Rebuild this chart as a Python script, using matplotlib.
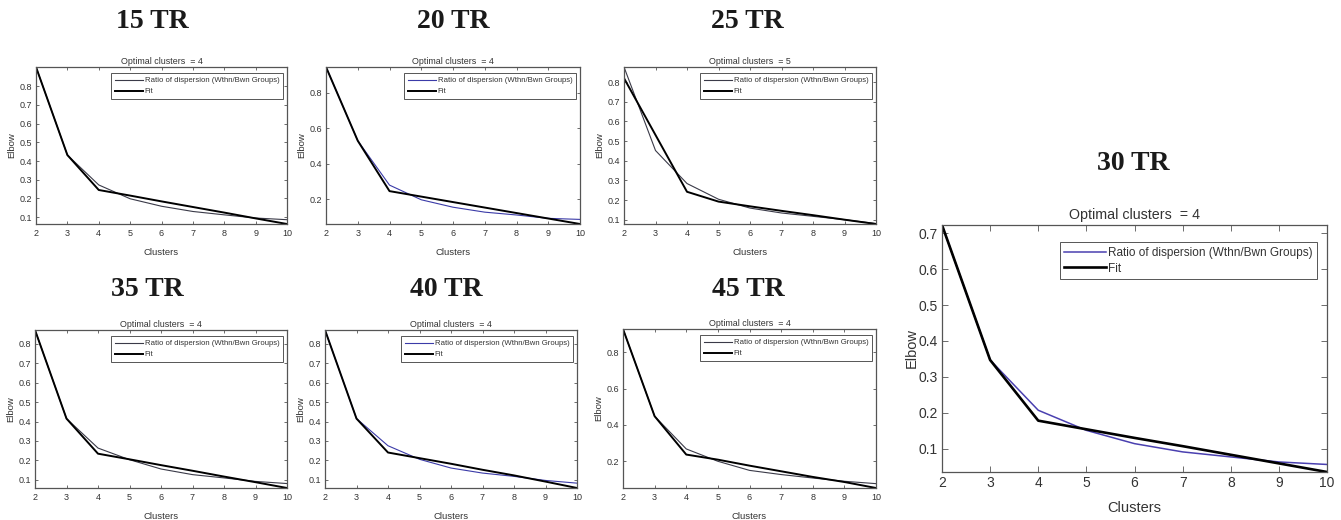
import matplotlib
matplotlib.use("Agg")
import matplotlib.pyplot as plt

plt.rcParams['font.family'] = ['Liberation Sans', 'DejaVu Sans']

clusters = [2, 3, 4, 5, 6, 7, 8, 9, 10]

panel_names = ["15 TR", "20 TR", "25 TR", "35 TR", "40 TR", "45 TR", "30 TR"]
optimal_k = [4, 4, 5, 4, 4, 4, 4]

ratio_15 = [0.903, 0.432, 0.272, 0.198, 0.158, 0.130, 0.112, 0.095, 0.086]
fit_15 = [0.903, 0.432, 0.245, 0.215, 0.184, 0.154, 0.124, 0.093, 0.063]

ratio_20 = [0.947, 0.530, 0.279, 0.196, 0.154, 0.126, 0.110, 0.091, 0.085]
fit_20 = [0.947, 0.530, 0.245, 0.214, 0.183, 0.152, 0.121, 0.090, 0.059]

ratio_25 = [0.877, 0.452, 0.284, 0.204, 0.159, 0.134, 0.117, 0.100, 0.080]
fit_25 = [0.820, 0.531, 0.242, 0.192, 0.168, 0.145, 0.123, 0.100, 0.078]

ratio_35 = [0.872, 0.415, 0.263, 0.203, 0.155, 0.126, 0.109, 0.091, 0.080]
fit_35 = [0.872, 0.415, 0.234, 0.205, 0.175, 0.146, 0.116, 0.087, 0.057]

ratio_40 = [0.872, 0.415, 0.275, 0.205, 0.160, 0.134, 0.117, 0.096, 0.082]
fit_40 = [0.872, 0.415, 0.240, 0.211, 0.182, 0.151, 0.122, 0.090, 0.057]

ratio_45 = [0.928, 0.448, 0.268, 0.200, 0.150, 0.127, 0.108, 0.090, 0.077]
fit_45 = [0.928, 0.448, 0.237, 0.209, 0.176, 0.145, 0.114, 0.086, 0.053]

ratio_30 = [0.723, 0.347, 0.207, 0.151, 0.114, 0.091, 0.077, 0.063, 0.056]
fit_30 = [0.723, 0.347, 0.178, 0.154, 0.130, 0.107, 0.083, 0.059, 0.035]

ratios = [ratio_15, ratio_20, ratio_25, ratio_35, ratio_40, ratio_45, ratio_30]
fits = [fit_15, fit_20, fit_25, fit_35, fit_40, fit_45, fit_30]

yticks_fine = [0.1, 0.2, 0.3, 0.4, 0.5, 0.6, 0.7, 0.8]
yticks_coarse = [0.2, 0.4, 0.6, 0.8]
yticks_30 = [0.1, 0.2, 0.3, 0.4, 0.5, 0.6, 0.7]
panel_yticks = [yticks_fine, yticks_coarse, yticks_fine, yticks_fine,
                yticks_fine, yticks_coarse, yticks_30]

legend_labels = ["Ratio of dispersion (Wthn/Bwn Groups)", "Fit"]

# layout (pixel boxes: left, top, right, bottom)
W, H = 1341, 520
boxes = [(36, 67, 287, 224), (326, 67, 580, 224), (624, 67, 876, 224),
         (35, 330, 287, 488), (325, 330, 577, 488), (623, 329, 876, 488),
         (942, 225, 1327, 472)]
title_pos = [(152, 22), (453, 22), (747, 22), (147, 290), (446, 290),
             (748, 290), (1133, 163)]
ratio_colors = ['#3a3a48', '#3b3ba8', '#3a3a48', '#3a3a48', '#3b3ba8',
                '#3a3a48', '#4a40b0']

fig = plt.figure(figsize=(W / 100, H / 100), dpi=100)
fig.patch.set_facecolor('white')

for i in range(7):
    l, t, r, b = boxes[i]
    big = (i == 6)
    ax = fig.add_axes([l / W, 1 - b / H, (r - l) / W, (b - t) / H])
    lw_r = 1.1 if big else 0.8
    lw_f = 1.9 if big else 1.4
    ax.plot(clusters, ratios[i], color=ratio_colors[i], lw=lw_r,
            label=legend_labels[0])
    ax.plot(clusters, fits[i], color='black', lw=lw_f,
            label=legend_labels[1])
    allv = ratios[i] + fits[i]
    ax.set_xlim(2, 10)
    ax.set_ylim(min(allv), max(allv))
    ax.set_xticks(clusters)
    ax.set_yticks(panel_yticks[i])
    ax.set_yticklabels([f"{v:g}" for v in panel_yticks[i]])
    fs_tick = 10 if big else 6.5
    fs_lab = 10.5 if big else 6.8
    ax.tick_params(axis='both', direction='in', top=True, right=True,
                   length=4 if big else 2.5, width=0.6,
                   labelsize=fs_tick, colors='#555555', labelcolor='#333333')
    ax.tick_params(axis='x', pad=3 if big else 3.5)
    ax.tick_params(axis='y', pad=3 if big else 3)
    for s in ax.spines.values():
        s.set_color('#555555')
        s.set_linewidth(0.9)
    ax.set_xlabel("Clusters", fontsize=fs_lab, color='#333333',
                  labelpad=8 if big else 7)
    ax.set_ylabel("Elbow", fontsize=fs_lab, color='#333333',
                  labelpad=0 if big else 2)
    ax.set_title(f"Optimal clusters  = {optimal_k[i]}",
                 fontsize=10.3 if big else 6.4, color='#333333',
                 pad=4 if big else 2.5)
    leg = ax.legend(loc='upper right',
                    bbox_to_anchor=(0.975, 0.93) if big else (0.985, 0.962),
                    fontsize=8.5 if big else 5.6, fancybox=False,
                    framealpha=1, edgecolor='#555555',
                    handlelength=3.5 if big else 3.6, handletextpad=0.2,
                    borderpad=0.4 if big else 0.5,
                    labelspacing=0.3 if big else 0.45, borderaxespad=0)
    leg.get_frame().set_linewidth(0.7)
    for txt in leg.get_texts():
        txt.set_color('#333333')
    tx, ty = title_pos[i]
    fig.text(tx / W, 1 - ty / H, panel_names[i], ha='center', va='center',
             fontsize=20, fontweight='bold',
             family=['Liberation Serif', 'DejaVu Serif'], color='#1a1a1a')

fig.savefig("out.png", dpi=100, facecolor='white')
